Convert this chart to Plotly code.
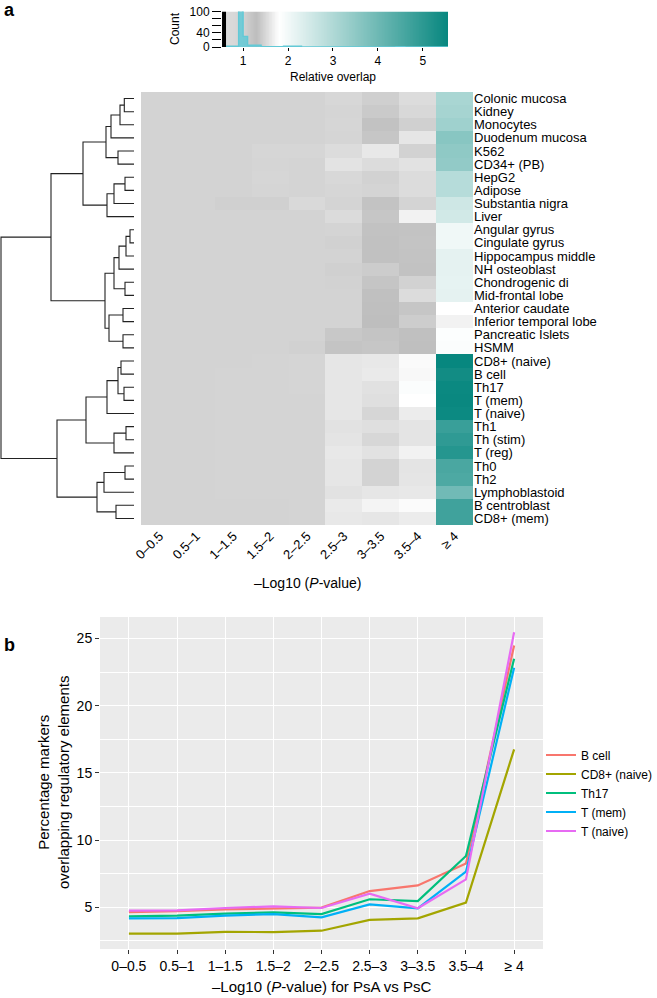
import numpy as np
import plotly.graph_objects as go

W, H = 657, 998
def fx(p): return p / W
def fy(p): return 1 - p / H

FONT = "Liberation Sans, Arial, Helvetica, sans-serif"

# ---------------- data: heatmap (panel a) ----------------
row_labels = ["Colonic mucosa", "Kidney", "Monocytes", "Duodenum mucosa", "K562", "CD34+ (PB)",
              "HepG2", "Adipose", "Substantia nigra", "Liver", "Angular gyrus", "Cingulate gyrus",
              "Hippocampus middle", "NH osteoblast", "Chondrogenic di", "Mid-frontal lobe",
              "Anterior caudate", "Inferior temporal lobe", "Pancreatic Islets", "HSMM",
              "CD8+ (naive)", "B cell", "Th17", "T (mem)", "T (naive)", "Th1", "Th (stim)",
              "T (reg)", "Th0", "Th2", "Lymphoblastoid", "B centroblast", "CD8+ (mem)"]
col_labels = ["0–0.5", "0.5–1", "1–1.5", "1.5–2", "2–2.5", "2.5–3", "3–3.5", "3.5–4", "≥ 4"]

rel_overlap = [
    [1.0, 1.0, 1.0, 1.0, 1.0, 0.83, 1.055, 1.535, 3.1],
    [1.0, 1.0, 1.0, 1.0, 1.0, 0.915, 1.12, 0.79, 3.15],
    [1.0, 1.0, 1.0, 1.0, 1.0, 0.872, 1.23, 1.04, 3.25],
    [1.0, 1.0, 1.0, 1.0, 1.0, 0.915, 1.18, 1.61, 3.6],
    [1.0, 1.0, 1.0, 0.872, 0.872, 1.535, 1.626, 1.014, 3.5],
    [1.0, 1.0, 1.0, 0.915, 0.957, 1.588, 1.535, 1.58, 3.45],
    [1.0, 1.0, 1.0, 0.872, 0.957, 0.79, 1.014, 1.535, 2.9],
    [1.0, 1.0, 1.0, 0.915, 0.957, 0.872, 0.957, 1.535, 2.9],
    [1.0, 1.0, 1.04, 1.04, 0.744, 0.957, 1.22, 0.957, 2.55],
    [1.0, 1.0, 1.0, 1.0, 1.0, 1.527, 1.18, 1.70, 2.5],
    [1.0, 1.0, 1.0, 1.0, 1.0, 0.957, 1.23, 1.22, 2.03],
    [1.0, 1.0, 1.0, 1.0, 1.0, 1.027, 1.245, 1.2, 2.03],
    [1.0, 1.0, 1.0, 1.0, 1.0, 1.0, 1.245, 1.22, 2.2],
    [1.0, 1.0, 1.0, 1.0, 1.0, 1.04, 1.095, 1.23, 2.2],
    [1.0, 1.0, 1.0, 1.0, 1.0, 1.014, 1.19, 1.014, 2.18],
    [1.0, 1.0, 1.0, 1.0, 1.0, 1.0, 1.26, 1.535, 2.2],
    [1.0, 1.0, 1.0, 1.0, 1.0, 1.0, 1.27, 1.18, 1.8],
    [1.0, 1.0, 1.0, 1.0, 1.0, 1.0, 1.29, 1.08, 1.70],
    [1.0, 1.0, 1.0, 1.0, 1.0, 1.15, 1.2, 1.26, 1.84],
    [1.0, 1.0, 1.0, 1.0, 1.027, 1.2, 1.18, 1.27, 1.86],
    [1.0, 1.0, 1.0, 0.957, 0.915, 1.61, 1.626, 1.76, 5.56],
    [1.0, 1.0, 0.957, 0.957, 0.915, 1.61, 1.64, 1.747, 5.4],
    [1.0, 1.0, 0.957, 0.957, 0.915, 1.61, 1.573, 1.86, 5.5],
    [1.0, 1.0, 0.957, 0.957, 0.957, 1.61, 1.56, 1.8, 5.52],
    [1.0, 1.0, 0.957, 0.957, 0.957, 1.61, 0.872, 1.656, 5.48],
    [1.0, 1.0, 0.957, 0.957, 0.957, 1.58, 1.56, 1.595, 4.8],
    [1.0, 1.0, 0.957, 0.957, 0.957, 1.595, 0.83, 1.595, 4.95],
    [1.0, 1.0, 0.957, 0.957, 0.957, 1.626, 1.58, 1.70, 5.1],
    [1.0, 1.0, 0.957, 0.957, 0.957, 1.61, 1.0, 1.595, 4.55],
    [1.0, 1.0, 0.957, 0.957, 0.957, 1.61, 1.0, 1.603, 4.5],
    [1.0, 1.0, 0.957, 0.957, 0.957, 1.58, 1.61, 1.626, 3.95],
    [1.0, 1.0, 1.0, 1.0, 0.957, 1.64, 1.717, 1.77, 4.7],
    [1.0, 1.0, 1.0, 1.0, 0.957, 1.626, 1.61, 1.656, 4.7],
]

# row dendrogram: (child a, child b, height); negative = leaf -(row+1), positive = earlier merge number
dendro_merges = [
    (-1, -2, 9.7), (1, -3, 14), (2, -4, 23), (-5, -6, 16), (3, 4, 28),
    (-7, -8, 9), (6, -9, 20), (7, -10, 27), (5, 8, 51),
    (-11, -12, 4), (10, -13, 8), (11, -14, 15), (-15, -16, 9), (12, 13, 20),
    (-17, -18, 11), (-19, -20, 11), (15, 16, 25), (14, 17, 29), (9, 18, 83),
    (-21, -22, 13), (-23, -24, 10), (20, 21, 16), (22, -25, 27),
    (-26, -27, 8), (24, -28, 20), (23, 25, 48),
    (-29, -30, 9), (27, -31, 30), (-32, -33, 18), (28, 29, 37), (26, 30, 77),
    (19, 31, 133),
]

# colour key
key_range = [0.53, 5.56]
scale_values = [0.53, 1.0, 1.3, 1.8, 5.56]
scale_colors = ["#dedede", "#d3d3d3", "#bdbdbd", "#ffffff", "#07877f"]
hist_edges = [0.55, 0.9, 1.0, 1.1, 1.4, 1.9, 2.3, 4.4, 4.6, 5.56]
hist_counts = [2, 160, 30, 5, 1, 2, 0, 1, 0]
key_vline = 0.575

# ---------------- data: line chart (panel b) ----------------
series_names = ["B cell", "CD8+ (naive)", "Th17", "T (mem)", "T (naive)"]
series_colors = ["#F8766D", "#A3A500", "#00BF7D", "#00B0F6", "#E76BF3"]
b_cell = [4.65, 4.72, 4.85, 4.93, 4.98, 6.21, 6.63, 8.27, 24.48]
cd8_naive = [3.04, 3.05, 3.17, 3.16, 3.26, 4.06, 4.18, 5.35, 16.75]
th17 = [4.33, 4.38, 4.53, 4.62, 4.5, 5.6, 5.47, 8.82, 23.49]
t_mem = [4.18, 4.2, 4.38, 4.5, 4.25, 5.22, 4.93, 7.65, 22.82]
t_naive = [4.75, 4.78, 4.95, 5.07, 4.95, 6.02, 4.93, 7.08, 25.47]
series_values = [b_cell, cd8_naive, th17, t_mem, t_naive]

# ---------------- build ----------------
zmin, zmax = key_range
colorscale = [[(v - zmin) / (zmax - zmin), c] for v, c in zip(scale_values, scale_colors)]

fig = go.Figure()

# key gradient
edges = np.linspace(zmin, zmax, 301)
centers = (edges[:-1] + edges[1:]) / 2
fig.add_trace(go.Heatmap(x=edges, y=[0, 100], z=[centers], colorscale=colorscale,
                         zmin=zmin, zmax=zmax, showscale=False, hoverinfo="skip",
                         xaxis="x", yaxis="y"))
# key histogram (step line)
fig.add_trace(go.Scatter(x=hist_edges, y=hist_counts + [hist_counts[-1]], mode="lines",
                         line=dict(color="#62c9d6", width=1.4, shape="hv"),
                         fill="tozeroy", fillcolor="rgba(98,201,214,0.85)",
                         showlegend=False, hoverinfo="skip", xaxis="x", yaxis="y"))
fig.add_trace(go.Scatter(x=[key_vline, key_vline], y=[0, 100], mode="lines",
                         line=dict(color="black", width=4), showlegend=False,
                         hoverinfo="skip", xaxis="x", yaxis="y"))

# dendrogram
n_rows = len(row_labels)
nodes = {}
def node(k):
    if k < 0:
        return (-k - 1, 0.0)
    return nodes[k]
dx, dy = [], []
for i, (a, b, h) in enumerate(dendro_merges, start=1):
    ya, ha = node(a)
    yb, hb = node(b)
    dx += [ha, h, h, hb, None]
    dy += [ya, ya, yb, yb, None]
    nodes[i] = ((ya + yb) / 2, h)
fig.add_trace(go.Scatter(x=dx, y=dy, mode="lines", line=dict(color="#222222", width=1.1),
                         showlegend=False, hoverinfo="skip", xaxis="x2", yaxis="y3"))

# heatmap
fig.add_trace(go.Heatmap(z=rel_overlap, x=list(range(len(col_labels))), y=list(range(n_rows)),
                         colorscale=colorscale, zmin=zmin, zmax=zmax, showscale=False,
                         xaxis="x3", yaxis="y3"))

# line chart
for name, col, vals in zip(series_names, series_colors, series_values):
    fig.add_trace(go.Scatter(x=list(range(len(col_labels))), y=vals, mode="lines", name=name,
                             line=dict(color=col, width=2.2), xaxis="x4", yaxis="y4"))

def ann(text, x, y, size, angle=0, xanchor="center"):
    return dict(text=text, x=fx(x), y=fy(y), xref="paper", yref="paper", xanchor=xanchor,
                yanchor="middle", textangle=angle, showarrow=False,
                font=dict(family=FONT, size=size, color="black"))

tick_font = dict(family=FONT, size=12, color="black")
fig.update_layout(
    width=W, height=H, margin=dict(l=0, r=0, t=0, b=0, pad=0, autoexpand=False),
    paper_bgcolor="white", plot_bgcolor="white",
    font=dict(family=FONT, color="black"),
    xaxis=dict(domain=[fx(222), fx(448)], anchor="y", range=key_range, tickvals=[1, 2, 3, 4, 5],
               ticks="outside", ticklen=3, tickcolor="black", tickfont=tick_font,
               showgrid=False, zeroline=False, showline=False, automargin=False),
    yaxis=dict(domain=[fy(47), fy(11.5)], anchor="x", range=[0, 100],
               tickvals=[0, 20, 40, 60, 80, 100], ticktext=["0", "", "40", "", "", "100"],
               ticks="outside", ticklen=9, tickcolor="black", tickfont=tick_font,
               showgrid=False, zeroline=False, showline=False, automargin=False),
    xaxis2=dict(domain=[0, fx(134)], anchor="y3", range=[134, 0], visible=False, automargin=False),
    xaxis3=dict(domain=[fx(141), fx(473)], anchor="y3", range=[-0.5, 8.5],
                tickvals=list(range(len(col_labels))), ticktext=col_labels, tickangle=-45,
                ticks="", tickfont=dict(family=FONT, size=13, color="black"),
                showgrid=False, zeroline=False, showline=False, automargin=False),
    yaxis3=dict(domain=[fy(525), fy(92)], anchor="x3", range=[n_rows - 0.5, -0.5], side="right",
                tickvals=list(range(n_rows)), ticktext=row_labels, ticks="",
                tickfont=dict(family=FONT, size=13, color="black"),
                showgrid=False, zeroline=False, showline=False, automargin=False),
    xaxis4=dict(domain=[fx(100), fx(543)], anchor="y4", range=[-0.6, 8.6],
                tickvals=list(range(len(col_labels))), ticktext=col_labels,
                ticks="outside", ticklen=4, tickcolor="#333333",
                tickfont=dict(family=FONT, size=14, color="black"),
                showgrid=True, gridcolor="white", gridwidth=1.2, zeroline=False, showline=False,
                automargin=False),
    yaxis4=dict(domain=[fy(949), fy(617)], anchor="x4", range=[1.9, 26.6],
                tickvals=[5, 10, 15, 20, 25], ticks="outside", ticklen=4, tickcolor="#333333",
                tickfont=dict(family=FONT, size=14, color="black"),
                showgrid=True, gridcolor="white", gridwidth=1.2, zeroline=False, showline=False,
                automargin=False,
                minor=dict(tickvals=[2.5, 7.5, 12.5, 17.5, 22.5], showgrid=True,
                           gridcolor="white", gridwidth=0.6, ticks="")),
    legend=dict(x=fx(541), xanchor="left", y=fy(793), yanchor="middle",
                font=dict(family=FONT, size=12, color="black"),
                bgcolor="rgba(0,0,0,0)", itemwidth=30, tracegroupgap=0),
    shapes=[dict(type="rect", xref="x4 domain", yref="y4 domain", x0=0, x1=1, y0=0, y1=1,
                 fillcolor="#ebebeb", line=dict(width=0), layer="below")],
    annotations=[
        ann("<b>a</b>", 2, 10, 18, xanchor="left"),
        ann("<b>b</b>", 2, 645, 18, xanchor="left"),
        ann("Count", 175, 29, 12, angle=-90),
        ann("Relative overlap", 333, 77, 12),
        ann("–Log10 (<i>P</i>-value)", 307, 583, 14),
        ann("–Log10 (<i>P</i>-value) for PsA vs PsC", 321, 986, 15),
        ann("Percentage markers<br>overlapping regulatory elements", 53, 783, 15, angle=-90),
    ],
)

fig.write_html("out.html", config={"displayModeBar": False},
               post_script="document.body.style.margin='0';")
